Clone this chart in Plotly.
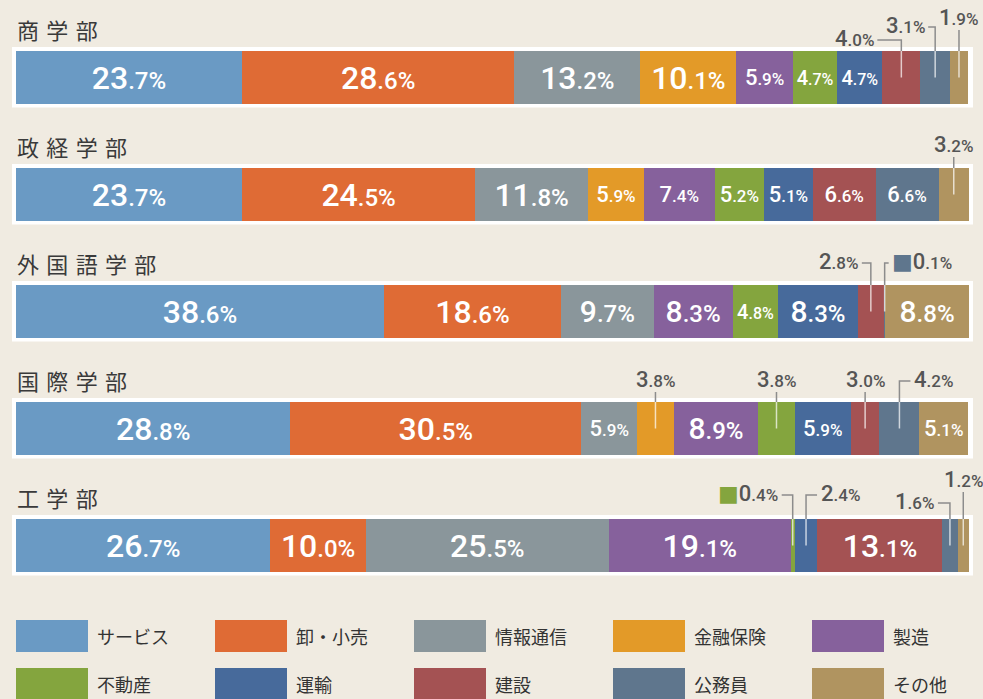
import plotly.graph_objects as go

# ---------------- data ----------------
departments = ["商学部", "政経学部", "外国語学部", "国際学部", "工学部"]
categories = ["サービス", "卸・小売", "情報通信", "金融保険", "製造",
              "不動産", "運輸", "建設", "公務員", "その他"]
colors = ["#6a9ac4", "#df6b35", "#8a969b", "#e39a28", "#86619c",
          "#84a53e", "#476a9b", "#a45253", "#5f768d", "#b09460"]

shogaku   = [23.7, 28.6, 13.2, 10.1, 5.9, 4.7, 4.7, 4.0, 3.1, 1.9]
seikei    = [23.7, 24.5, 11.8, 5.9, 7.4, 5.2, 5.1, 6.6, 6.6, 3.2]
gaikokugo = [38.6, 18.6, 9.7, 0.0, 8.3, 4.8, 8.3, 2.8, 0.1, 8.8]
kokusai   = [28.8, 30.5, 5.9, 3.8, 8.9, 3.8, 5.9, 3.0, 4.2, 5.1]
kogaku    = [26.7, 10.0, 25.5, 0.0, 19.1, 0.4, 2.4, 13.1, 1.6, 1.2]
dept_values = [shogaku, seikei, gaikokugo, kokusai, kogaku]

# callouts: department index -> list of (category index, line rise px, side, horizontal px, marker)
callouts = {
    0: [(7, -37.5, "left", 24, False), (8, -50.5, "left", 7, False), (9, -47.5, "up", 0, False)],
    1: [(9, -37.5, "up", 0, False)],
    2: [(7, -48.5, "left", 9, False), (8, -48.5, "right", 4, True)],
    3: [(3, -36.5, "up", 0, False), (5, -36.5, "up", 0, False), (7, -36.5, "up", 0, False),
        (8, -47.5, "right", 11, False)],
    4: [(5, -50.5, "left", 11, True), (6, -50.5, "right", 11, False), (8, -42.5, "left", 12, False),
        (9, -53.5, "up", 0, False)],
}

# ---------------- layout helpers ----------------
W, H = 983, 699
BG = "#f0ebe1"
PX0 = 16.0
PXW = 953.0 / 100.0


def px2x(px):
    return (px - PX0) / PXW


row_y = [77.5 + 117 * i for i in range(len(departments))]
BAR_H = 53
NUM_FONT = "Roboto, DejaVu Sans, sans-serif"
JP_FONT = "Noto Sans CJK JP, sans-serif"


def fmt(v, big, small):
    s = f"{v:.1f}"
    ip, dp = s.split(".")
    return f"{ip}<span style='font-size:{small}px'>.{dp}%</span>"


def tier(v):
    if v >= 10:
        return 32, 24
    if v >= 8:
        return 30, 24
    if v >= 5:
        return 22, 17
    return 20, 16


outside_set = {(d, c[0]) for d, lst in callouts.items() for c in lst}

fig = go.Figure()

for ci, cat in enumerate(categories):
    xs = [dept_values[d][ci] for d in range(len(departments))]
    texts, sizes = [], []
    for d in range(len(departments)):
        v = xs[d]
        if v <= 0 or (d, ci) in outside_set:
            texts.append("")
            sizes.append(20)
        else:
            b, s = tier(v)
            texts.append(fmt(v, b, s))
            sizes.append(b)
    fig.add_trace(go.Bar(
        y=row_y, x=xs, orientation="h", name=cat,
        width=BAR_H,
        marker=dict(color=colors[ci], line=dict(width=0)),
        text=texts, textposition="inside", insidetextanchor="middle",
        textangle=0, constraintext="none",
        textfont=dict(color="white", size=sizes, family=NUM_FONT, weight=500),
        hoverinfo="skip", showlegend=False,
    ))

shapes = []
annotations = []

# white frames behind bars + department titles
for d, name in enumerate(departments):
    yc = row_y[d]
    shapes.append(dict(type="rect", layer="below", xref="x", yref="y",
                       x0=px2x(12), x1=px2x(973), y0=yc - 30.5, y1=yc + 30,
                       fillcolor="white", line=dict(width=0)))
    annotations.append(dict(x=px2x(15), y=yc - 49, xref="x", yref="y",
                            text="\u2004".join(list(name)), showarrow=False,
                            xanchor="left", yanchor="middle",
                            font=dict(family=JP_FONT, size=22, color="#3a3a3a")))

# callouts
for d, lst in callouts.items():
    vals = dept_values[d]
    yc = row_y[d]
    bar_top = yc - BAR_H / 2
    for (ci, rise, side, hlen, marker) in lst:
        start = sum(vals[:ci])
        xc = start + vals[ci] / 2
        ytop = yc + rise
        shapes.append(dict(type="line", xref="x", yref="y", x0=xc, x1=xc,
                           y0=yc, y1=bar_top,
                           line=dict(color="rgba(255,255,255,0.7)", width=1.5)))
        if side == "left":
            xend = xc - hlen / PXW
        elif side == "right":
            xend = xc + hlen / PXW
        else:
            xend = xc
        shapes.append(dict(type="path", xref="x", yref="y",
                           path=f"M {xc},{bar_top} L {xc},{ytop} L {xend},{ytop}",
                           line=dict(color="#8c8c8c", width=1.5)))
        label = fmt(vals[ci], 22, 17)
        if marker:
            label = f"<span style='color:{colors[ci]}'>■</span>" + label
        if side == "up":
            annotations.append(dict(x=xc, y=ytop, xref="x", yref="y", text=label,
                                    showarrow=False, xanchor="center", yanchor="bottom",
                                    yshift=-2,
                                    font=dict(family=NUM_FONT, size=22, color="#555555", weight=500)))
        elif side == "left":
            annotations.append(dict(x=xend - 1.5 / PXW, y=ytop, xref="x", yref="y", text=label,
                                    showarrow=False, xanchor="right", yanchor="middle",
                                    yshift=2,
                                    font=dict(family=NUM_FONT, size=22, color="#555555", weight=500)))
        else:
            annotations.append(dict(x=xend + 1.5 / PXW, y=ytop, xref="x", yref="y", text=label,
                                    showarrow=False, xanchor="left", yanchor="middle",
                                    yshift=2,
                                    font=dict(family=NUM_FONT, size=22, color="#555555", weight=500)))

# legend
for i, cat in enumerate(categories):
    col, row = i % 5, i // 5
    x0 = 16 + 199 * col
    y0 = 620 + 48 * row
    shapes.append(dict(type="rect", xref="x", yref="y",
                       x0=px2x(x0), x1=px2x(x0 + 72), y0=y0, y1=y0 + 32,
                       fillcolor=colors[i], line=dict(width=0)))
    annotations.append(dict(x=px2x(x0 + 79), y=y0 + 16, xref="x", yref="y", text=cat,
                            showarrow=False, xanchor="left", yanchor="middle",
                            font=dict(family=JP_FONT, size=18, color="#333333")))

fig.update_layout(
    width=W, height=H, autosize=False,
    margin=dict(l=0, r=0, t=0, b=0, pad=0),
    paper_bgcolor=BG, plot_bgcolor=BG,
    barmode="stack",
    xaxis=dict(range=[px2x(0), px2x(W)], visible=False, fixedrange=True),
    yaxis=dict(range=[H, 0], visible=False, fixedrange=True),
    shapes=shapes, annotations=annotations,
    showlegend=False,
)

fig.write_html("out.html", config=dict(displayModeBar=False))
